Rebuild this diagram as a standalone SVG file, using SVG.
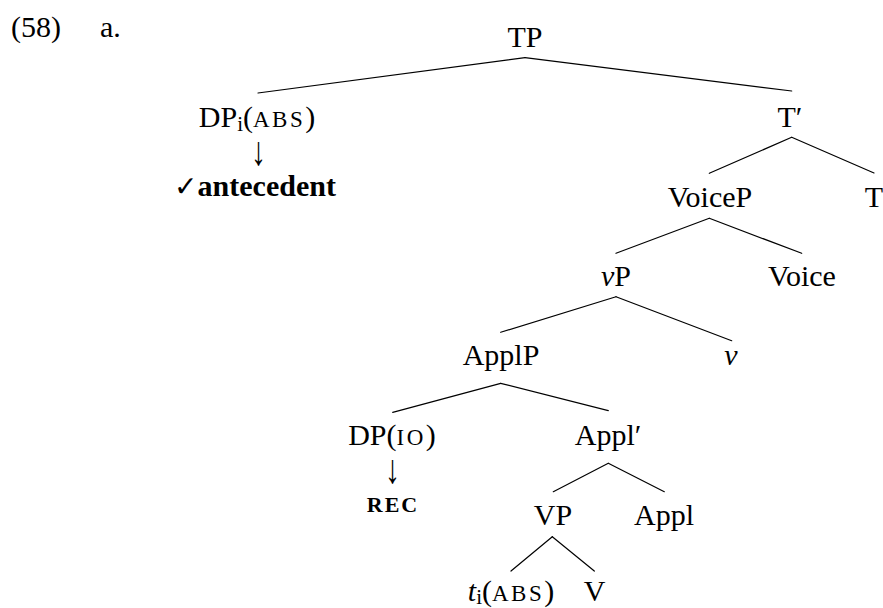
<svg xmlns="http://www.w3.org/2000/svg" width="883" height="608" viewBox="0 0 883 608">
<style>
text { font-family: 'Liberation Serif', 'Tinos', 'DejaVu Serif', serif; }
.t { font-size: 30px; fill: #000; text-anchor: middle; }
.l { text-anchor: start; }
.sc { font-size: 23px; letter-spacing: 2.5px; }
.sub { font-size: 21px; }
.it { font-style: italic; }
.b { font-weight: bold; }
.arr { font-size: 30px; }
.chk { font-family: 'DejaVu Sans', sans-serif; font-size: 28px; font-weight: bold; }
.rec { font-size: 22px; font-weight: bold; letter-spacing: 2px; }
#connectors line { stroke: #000; stroke-width: 1.2; stroke-linecap: round; }
</style>
<rect width="883" height="608" fill="#fff"/>
<g id="label">
  <text class="t l" x="11" y="37">(58)</text>
  <text class="t l" x="100" y="37">a.</text>
</g>
<g id="connectors">
  <line x1="525" y1="57.7" x2="258" y2="93"/>
  <line x1="525" y1="57.7" x2="791.7" y2="91"/>
  <line x1="791.7" y1="137.3" x2="709.3" y2="173.3"/>
  <line x1="791.7" y1="137.3" x2="874" y2="173"/>
  <line x1="709.3" y1="218.3" x2="616" y2="253.3"/>
  <line x1="709.3" y1="218.3" x2="801.7" y2="253.3"/>
  <line x1="616" y1="296.7" x2="500.7" y2="332.3"/>
  <line x1="616" y1="296.7" x2="731.7" y2="340.7"/>
  <line x1="500.7" y1="383.3" x2="392.7" y2="412.3"/>
  <line x1="500.7" y1="383.3" x2="608.3" y2="410.7"/>
  <line x1="608.3" y1="463.3" x2="553.3" y2="491.7"/>
  <line x1="608.3" y1="463.3" x2="664.3" y2="491.7"/>
  <line x1="552.3" y1="536.7" x2="511" y2="571"/>
  <line x1="552.3" y1="536.7" x2="594.3" y2="571"/>
</g>
<g id="TP"><text class="t" x="525" y="47">TP</text></g>
<g id="DPi">
  <text class="t" x="257" y="126.7">DP<tspan class="sub" dy="4">i</tspan><tspan dy="-4">(</tspan><tspan class="sc">ABS</tspan>)</text>
  <text class="t arr" transform="translate(258.5,165) scale(1,1.35)" x="0" y="0">↓</text>
  <text class="t" x="255" y="195.5"><tspan class="chk">✓</tspan><tspan class="b">antecedent</tspan></text>
</g>
<g id="Tbar"><text class="t" x="790" y="126.7">T′</text></g>
<g id="VoiceP"><text class="t" x="710" y="206.7">VoiceP</text></g>
<g id="T"><text class="t" x="874" y="206.7">T</text></g>
<g id="vP"><text class="t" x="616" y="285.7"><tspan class="it">v</tspan>P</text></g>
<g id="Voice"><text class="t" x="802" y="285.7">Voice</text></g>
<g id="ApplP"><text class="t" x="501" y="365">ApplP</text></g>
<g id="v"><text class="t it" x="731" y="365">v</text></g>
<g id="DPIO">
  <text class="t" x="392" y="445">DP(<tspan class="sc">IO</tspan>)</text>
  <text class="t arr" transform="translate(392.5,483) scale(1,1.35)" x="0" y="0">↓</text>
  <text class="t rec" x="393" y="512">REC</text>
</g>
<g id="Applbar"><text class="t" x="608" y="445">Appl′</text></g>
<g id="VP"><text class="t" x="553" y="525">VP</text></g>
<g id="Appl"><text class="t" x="664" y="525">Appl</text></g>
<g id="ti"><text class="t" x="511" y="601"><tspan class="it">t</tspan><tspan class="sub" dy="3">i</tspan><tspan dy="-3">(</tspan><tspan class="sc">ABS</tspan>)</text></g>
<g id="V"><text class="t" x="594.5" y="601">V</text></g>
</svg>
